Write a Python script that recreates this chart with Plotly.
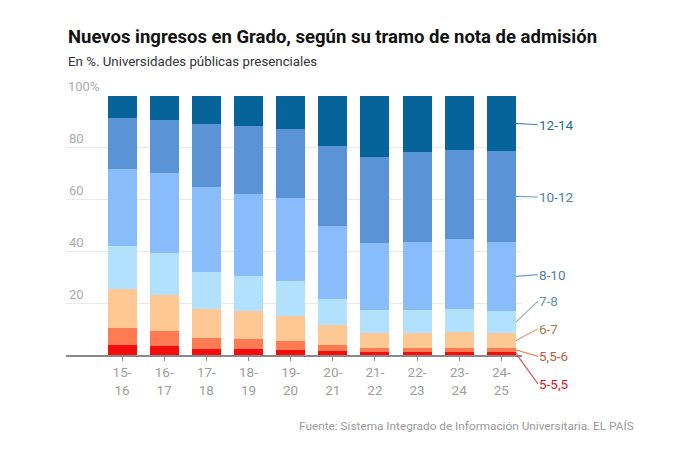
import plotly.graph_objects as go

# ---- data ----
seasons = ["15-16", "16-17", "17-18", "18-19", "19-20", "20-21", "21-22", "22-23", "23-24", "24-25"]
tick_labels = ["15-<br>16", "16-<br>17", "17-<br>18", "18-<br>19", "19-<br>20",
               "20-<br>21", "21-<br>22", "22-<br>23", "23-<br>24", "24-<br>25"]
series_names = ["5-5,5", "5,5-6", "6-7", "7-8", "8-10", "10-12", "12-14"]
s_5_55 = [3.9, 3.5, 2.5, 2.2, 1.9, 1.4, 1.2, 1.2, 1.2, 1.2]
s_55_6 = [6.6, 5.7, 4.1, 3.9, 3.5, 2.5, 1.6, 1.6, 1.6, 1.5]
s_6_7 = [14.9, 13.9, 11.2, 10.7, 9.8, 7.6, 5.8, 5.8, 6.0, 5.7]
s_7_8 = [16.5, 16.4, 14.3, 13.7, 13.4, 10.3, 8.8, 8.8, 9.1, 8.6]
s_8_10 = [30.0, 30.6, 32.7, 31.8, 32.0, 28.1, 26.0, 26.3, 27.0, 26.7]
s_10_12 = [19.7, 20.7, 24.2, 26.2, 26.8, 30.9, 33.2, 34.5, 34.1, 35.1]
s_12_14 = [8.4, 9.2, 11.0, 11.5, 12.6, 19.2, 23.4, 21.8, 21.0, 21.2]
y_ticks = [20, 40, 60, 80]
y_tick_text = ["20", "40", "60", "80"]
y_top_label = "100%"

series = [s_5_55, s_55_6, s_6_7, s_7_8, s_8_10, s_10_12, s_12_14]

# ---- styles ----
bar_colors = ["#f40d0d", "#fd7b52", "#fec895", "#b1e1fd", "#89bcfb", "#5a93d6", "#07649b"]
label_colors = ["#e0161a", "#c8593b", "#ad7650", "#6a93aa", "#4d7eaa", "#4d7eaa", "#1f6d9d"]
line_colors = ["#e8484a", "#e48a70", "#d6a886", "#8fb2c6", "#6f9cc4", "#6f9cc4", "#4a8ab5"]
label_y = [-11.1, -0.5, 10.1, 20.8, 31.0, 61.0, 88.9]   # label placement (axis units)
BAR_W = 0.69
FONT = "Roboto"

x_idx = list(range(len(seasons)))

fig = go.Figure()
for name, vals, col in zip(series_names, series, bar_colors):
    fig.add_trace(go.Bar(x=x_idx, y=vals, name=name, marker=dict(color=col, line=dict(width=0)),
                         width=BAR_W, hoverinfo="name+y"))

# right-side labels with leader lines to the last bar
last = len(seasons) - 1
cum = 0.0
for i, (name, vals) in enumerate(zip(series_names, series)):
    mid = cum + vals[last] / 2
    cum += vals[last]
    fig.add_annotation(x=last + BAR_W / 2, y=mid, xref="x", yref="y",
                       text=name, showarrow=True, arrowhead=0, arrowwidth=1.2,
                       arrowcolor=line_colors[i], ax=22, axref="pixel",
                       ay=label_y[i], ayref="y", xanchor="left", yanchor="middle",
                       standoff=0, startstandoff=0, borderpad=0,
                       font=dict(family=FONT, size=13.5, color=label_colors[i]))

# "100%" top tick label
fig.add_annotation(text=y_top_label, xref="paper", yref="y", x=0, y=100,
                   xanchor="left", yanchor="bottom", showarrow=False, yshift=0,
                   font=dict(family=FONT, size=13, color="#ababab"))

fig.add_annotation(text="<b>Nuevos ingresos en Grado, según su tramo de nota de admisión</b>",
                   xref="paper", yref="paper", x=0, y=1.228, xanchor="left", yanchor="middle",
                   showarrow=False, font=dict(family=FONT, size=18.5, color="#111"))
fig.add_annotation(text="En %. Universidades públicas presenciales",
                   xref="paper", yref="paper", x=0, y=1.135, xanchor="left", yanchor="middle",
                   showarrow=False, font=dict(family=FONT, size=13.3, color="#333"))
fig.add_annotation(text="Fuente: Sistema Integrado de Información Universitaria. EL PAÍS",
                   xref="paper", yref="paper", x=1.25, y=-0.274, xanchor="right", yanchor="middle",
                   showarrow=False, font=dict(family=FONT, size=11.8, color="#9a9a9a"))

fig.update_layout(
    width=680, height=449,
    barmode="stack",
    showlegend=False,
    plot_bgcolor="white", paper_bgcolor="white",
    margin=dict(l=58, r=166, t=88, b=102),
    font=dict(family=FONT),
    xaxis=dict(range=[-1.33, 9.49], tickvals=x_idx, ticktext=tick_labels,
               showgrid=False, zeroline=False, showline=True, linecolor="#8a8a8a", linewidth=1.5,
               ticks="outside", ticklen=4, tickcolor="#8a8a8a", tickwidth=1,
               tickfont=dict(family=FONT, size=13.5, color="#9e9e9e")),
    yaxis=dict(range=[0, 100], tickvals=y_ticks + [100], ticktext=y_tick_text + [""],
               showgrid=True, gridcolor="#e9e9e9", gridwidth=1, zeroline=False,
               ticklabelposition="inside top", ticks="",
               tickfont=dict(family=FONT, size=13, color="#ababab")),
)

fig.write_html("out.html")
